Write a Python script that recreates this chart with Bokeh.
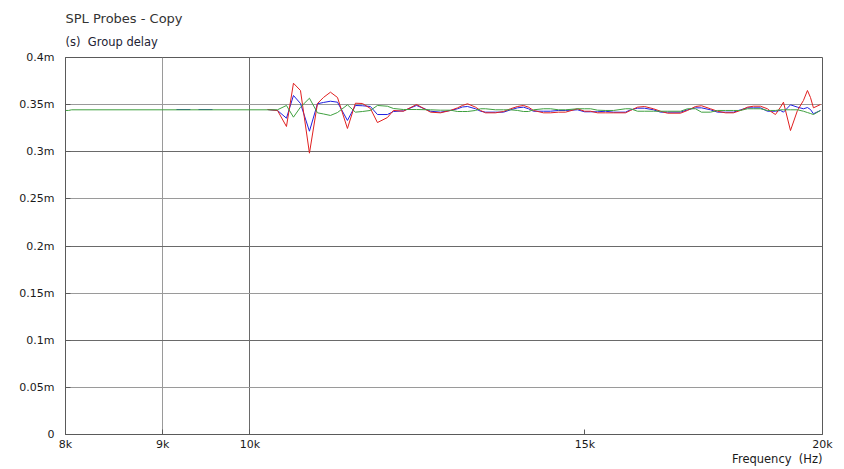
from bokeh.plotting import figure
from bokeh.models import FixedTicker, Grid, Title, CustomJSTickFormatter
from bokeh.embed import file_html
from bokeh.resources import INLINE

NAN = float("nan")
NBSP = "\u00a0"

# ---- axes / ticks ----
x_ticks = [8000, 9000, 10000, 15000, 20000]
y_ticks = [0, 0.05, 0.1, 0.15, 0.2, 0.25, 0.3, 0.35, 0.4]
grid_dark_x = [10000]
grid_light_x = [9000]
grid_dark_y = [0.1, 0.2, 0.3]
grid_light_y = [0.05, 0.15, 0.25, 0.35]

title_text = "SPL Probes - Copy"
subtitle_text = "(s)" + NBSP + " Group delay"
x_label_text = "Frequency" + NBSP + " (Hz)"

# ---- data: frequency (Hz), group delay (ms) ----
freq = [10216, 10340, 10453, 10542, 10632, 10748, 10853, 10932, 11025, 11119,
        11254, 11363, 11460, 11571, 11670, 11812, 11898, 12043, 12235, 12444,
        12596, 12749, 12858, 12935, 13014, 13141, 13221, 13301, 13463, 13594,
        13710, 13826, 13927, 14011, 14096, 14268, 14390, 14530, 14654, 14868,
        14995, 15104, 15233, 15381, 15530, 15757, 15853, 15988, 16124, 16300,
        16439, 16579, 16841, 16985, 17150, 17275, 17464, 17613, 17784, 17957,
        18110, 18264, 18397, 18554, 18711, 18779, 18893, 19008, 19077, 19240,
        19403, 19544, 19639, 19711, 19782, 19951]

red = [0.3448, 0.3438, 0.3268, 0.3727, 0.3650, 0.2985, 0.3512, 0.3576, 0.3632, 0.3576,
       0.3247, 0.3515, 0.3512, 0.3459, 0.3310, 0.3363, 0.3438, 0.3430, 0.3501, 0.3420,
       0.3413, 0.3438, 0.3466, 0.3491, 0.3509, 0.3473, 0.3438, 0.3413, 0.3413, 0.3427,
       0.3456, 0.3480, 0.3491, 0.3473, 0.3438, 0.3413, 0.3413, 0.3420, 0.3420, 0.3456,
       0.3430, 0.3430, 0.3413, 0.3413, 0.3413, 0.3413, 0.3438, 0.3473, 0.3480, 0.3456,
       0.3430, 0.3409, 0.3409, 0.3438, 0.3480, 0.3488, 0.3456, 0.3430, 0.3413, 0.3413,
       0.3438, 0.3473, 0.3483, 0.3483, 0.3456, 0.3430, 0.3395, 0.3473, 0.3526, 0.3225,
       0.3438, 0.3544, 0.3650, 0.3576, 0.3466, 0.3501]

blue = [0.3448, 0.3438, 0.3356, 0.3597, 0.3512, 0.3218, 0.3509, 0.3523, 0.3536, 0.3526,
        0.3332, 0.3491, 0.3488, 0.3480, 0.3395, 0.3395, 0.3427, 0.3434, 0.3491, 0.3430,
        0.3420, 0.3438, 0.3456, 0.3475, 0.3480, 0.3456, 0.3430, 0.3420, 0.3420, 0.3420,
        0.3445, 0.3466, 0.3473, 0.3456, 0.3430, 0.3430, 0.3430, 0.3438, 0.3438, 0.3445,
        0.3424, 0.3424, 0.3424, 0.3430, 0.3420, 0.3420, 0.3445, 0.3462, 0.3462, 0.3445,
        0.3420, 0.3420, 0.3420, 0.3445, 0.3466, 0.3466, 0.3445, 0.3420, 0.3420, 0.3420,
        0.3445, 0.3466, 0.3466, 0.3466, 0.3430, 0.3430, 0.3430, 0.3438, 0.3420, 0.3498,
        0.3473, 0.3456, 0.3469, 0.3448, 0.3403, 0.3438]

green = [0.3445, 0.3445, 0.3491, 0.3367, 0.3473, 0.3568, 0.3413, 0.3401, 0.3385, 0.3416,
         0.3498, 0.3420, 0.3427, 0.3438, 0.3491, 0.3483, 0.3459, 0.3448, 0.3448, 0.3445,
         0.3441, 0.3441, 0.3427, 0.3427, 0.3427, 0.3438, 0.3456, 0.3456, 0.3445, 0.3445,
         0.3445, 0.3438, 0.3427, 0.3427, 0.3445, 0.3456, 0.3456, 0.3445, 0.3445, 0.3456,
         0.3456, 0.3456, 0.3441, 0.3438, 0.3438, 0.3456, 0.3456, 0.3430, 0.3430, 0.3430,
         0.3430, 0.3430, 0.3430, 0.3456, 0.3456, 0.3420, 0.3420, 0.3438, 0.3438, 0.3438,
         0.3438, 0.3456, 0.3456, 0.3456, 0.3438, 0.3438, 0.3438, 0.3445, 0.3445, 0.3445,
         0.3445, 0.3430, 0.3416, 0.3406, 0.3395, 0.3438]

green_low_freq = [8000, 8029, 8060]
green_low = [0.3438, 0.3438, 0.3445]

blue_low_freq = [9150, 9306, NAN, 9397, 9558]
blue_low = [0.3448, 0.3448, NAN, 0.3448, 0.3448]

RED = "#e02020"
BLUE = "#2020e0"
GREEN = "#3fa03f"
FONT = "DejaVu Sans"
AXIS_COLOR = "#5a5a5a"

p = figure(x_axis_type="log", x_range=(8000, 20000), y_range=(0, 0.4),
           frame_width=757, frame_height=377,
           min_border_left=65, min_border_right=22, min_border_top=57, min_border_bottom=35,
           output_backend="svg", toolbar_location=None)
p.background_fill_color = "white"
p.border_fill_color = "white"
p.outline_line_color = AXIS_COLOR
p.outline_line_width = 1
p.outline_line_alpha = 1.0

p.xgrid.visible = False
p.ygrid.visible = False
p.add_layout(Grid(dimension=0, ticker=FixedTicker(ticks=grid_light_x), grid_line_color="#9a9a9a"))
p.add_layout(Grid(dimension=0, ticker=FixedTicker(ticks=grid_dark_x), grid_line_color="#6a6a6a"))
p.add_layout(Grid(dimension=1, ticker=FixedTicker(ticks=grid_light_y), grid_line_color="#9a9a9a"))
p.add_layout(Grid(dimension=1, ticker=FixedTicker(ticks=grid_dark_y), grid_line_color="#6a6a6a"))

p.xaxis.ticker = FixedTicker(ticks=x_ticks)
p.xaxis.formatter = CustomJSTickFormatter(code="return (tick/1000) + 'k';")
p.yaxis.ticker = FixedTicker(ticks=y_ticks)
p.yaxis.formatter = CustomJSTickFormatter(
    code="return tick == 0 ? '0' : (+tick.toFixed(2)) + 'm';")

for ax in (p.xaxis[0], p.yaxis[0]):
    ax.major_tick_in = 5
    ax.major_tick_out = 0
    ax.minor_tick_in = 0
    ax.minor_tick_out = 0
    ax.axis_line_color = AXIS_COLOR
    ax.major_tick_line_color = AXIS_COLOR
    ax.major_label_text_font = FONT
    ax.major_label_text_font_size = "11px"
    ax.major_label_text_color = "#1a1a1a"
p.xaxis.major_label_text_align = "left"
p.xaxis.major_label_standoff = 3
p.yaxis.major_label_standoff = 11

p.line(blue_low_freq, blue_low, line_color=BLUE, line_width=1)
p.line(freq, blue, line_color=BLUE, line_width=1)
p.line(freq, red, line_color=RED, line_width=1)
p.line(green_low_freq + freq, green_low + green, line_color=GREEN, line_width=1)

p.add_layout(Title(text=x_label_text, align="right", text_font=FONT, text_font_size="11.5px",
                   text_font_style="normal", text_color="#1a1a1a", standoff=-7, offset=0), "below")
p.add_layout(Title(text=subtitle_text, align="left", text_font=FONT, text_font_size="11.5px",
                   text_font_style="normal", text_color="#222233", standoff=17), "above")
p.add_layout(Title(text=title_text, align="left", text_font=FONT, text_font_size="13px",
                   text_font_style="normal", text_color="#333333", standoff=-2), "above")

open("out.html", "w").write(file_html(p, INLINE))
